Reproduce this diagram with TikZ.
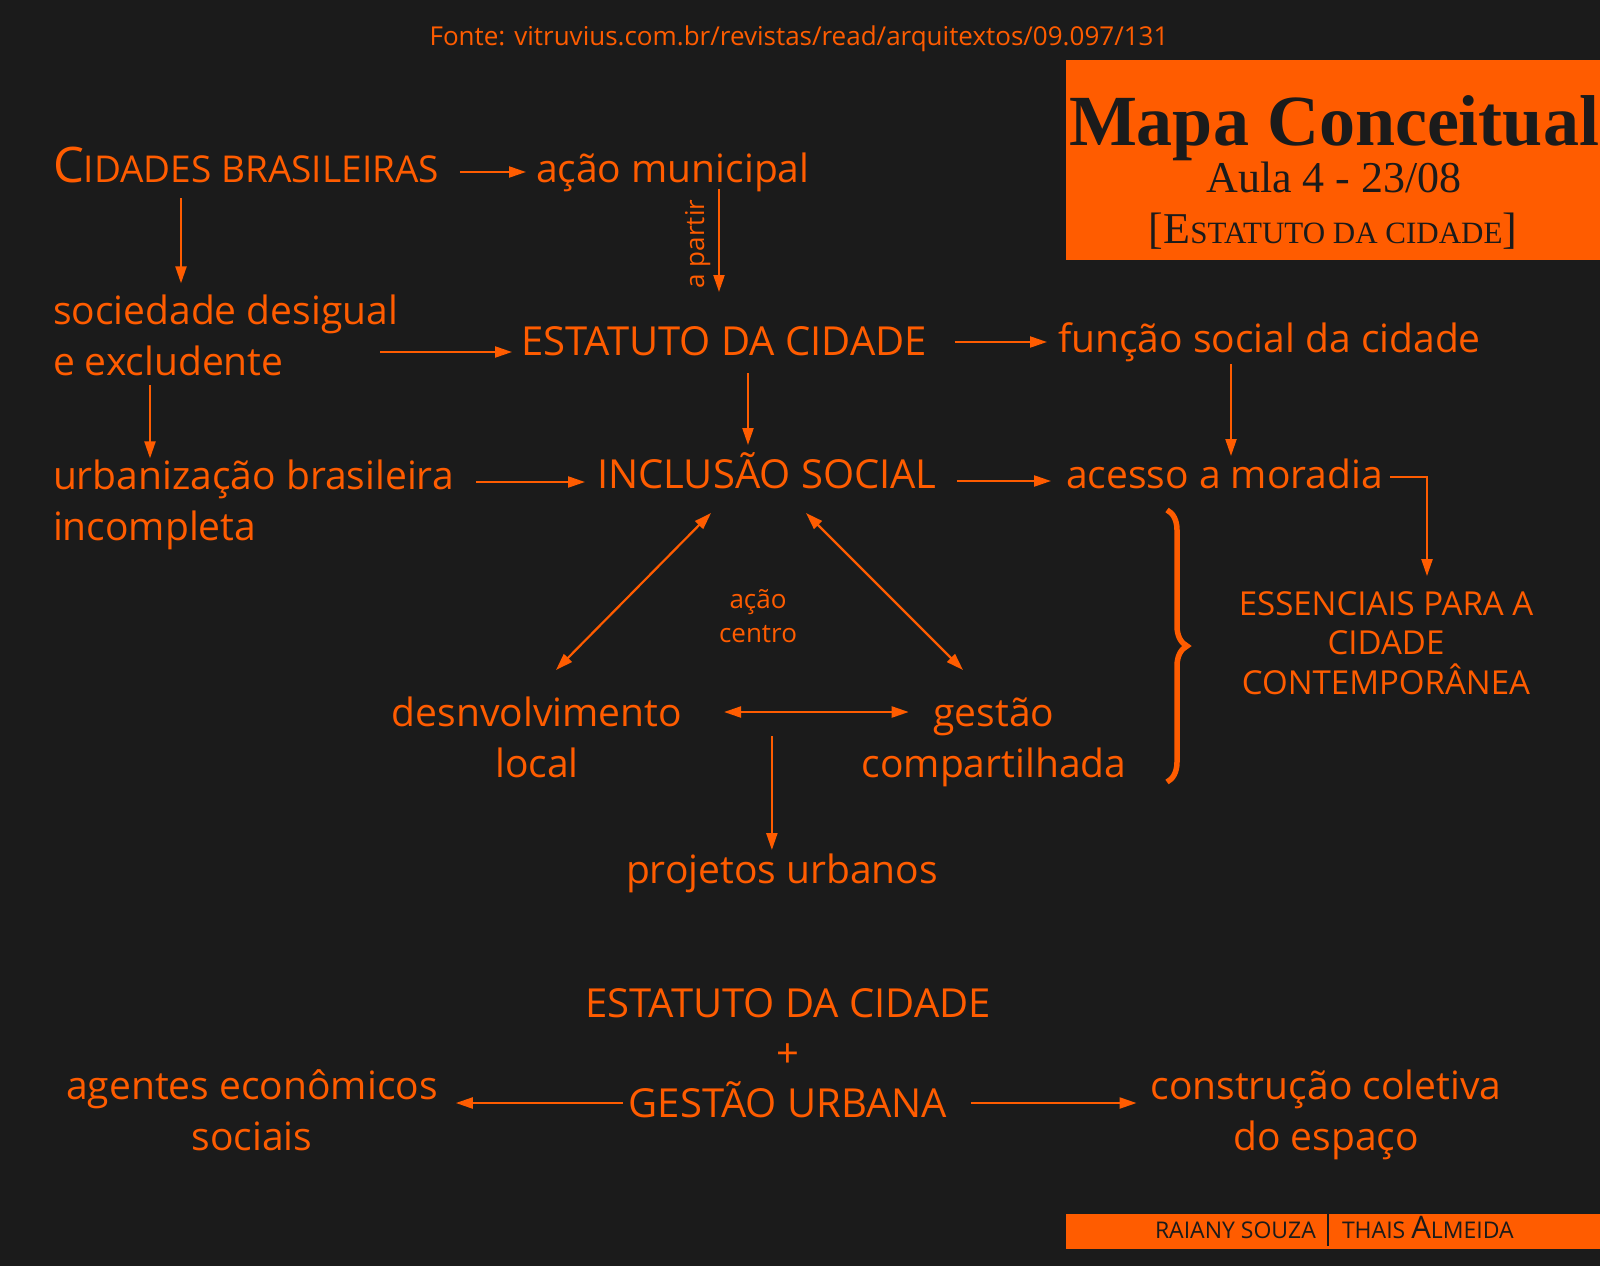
\documentclass[tikz,border=0pt]{standalone}
\usepackage{fontspec}
\setmainfont{Open Sans}
\newfontfamily\serifft{Liberation Serif}
\usetikzlibrary{arrows.meta,calc,decorations.pathreplacing}
\definecolor{bg}{HTML}{1B1B1B}
\definecolor{org}{HTML}{FF5C00}
\begin{document}
\begin{tikzpicture}[x=1pt,y=-1pt,
  every node/.style={inner sep=0pt,outer sep=0pt,text=org},
  txt/.style={font=\fontsize{39}{51}\selectfont},
  captxt/.style={font=\fontsize{40}{50}\selectfont},
  arr/.style={draw=org,line width=2.2pt,-{Triangle[length=17pt,width=11pt]}},
  dbl/.style={draw=org,line width=2.2pt,{Triangle[length=17pt,width=11pt]}-{Triangle[length=17pt,width=11pt]}},
  dark/.style={text=bg}]
\fill[bg] (0,0) rectangle (1600,1266);
\useasboundingbox (0,0) rectangle (1600,1266);

% source line
\node[anchor=base,font=\fontsize{26}{30}\selectfont] (fonte) at (799,45) {Fonte: vitruvius.com.br/revistas/read/arquitextos/09.097/131};

% title box
\node[fill=org,minimum width=534pt,minimum height=200pt,anchor=north west] (tbox) at (1066,60) {};
\node[dark,anchor=base,font=\serifft\bfseries\fontsize{72}{72}\selectfont] (mapa) at (1334,145) {Mapa Conceitual};
\node[dark,anchor=base,font=\serifft\fontsize{44}{44}\selectfont] (aula) at (1334,192) {Aula 4 - 23/08};
\node[dark,anchor=base,font=\serifft\fontsize{44}{44}\selectfont] (estt) at (1333,243) {[E{\fontsize{31}{31}\selectfont STATUTO DA CIDADE}]};

% credits box
\node[fill=org,minimum width=534pt,minimum height=35pt,anchor=north west] (cbox) at (1066,1214) {};
\node[dark,anchor=base west,font=\fontsize{23}{23}\selectfont] (rai) at (1155,1238) {RAIANY SOUZA};
\node[dark,anchor=base west,font=\fontsize{23}{23}\selectfont] (tha) at (1342,1238) {THAIS {\fontsize{31}{31}\selectfont A}LMEIDA};
\draw[bg,line width=2pt] (1328,1214) -- (1328,1246);

% concept nodes (multi-line nodes: base = last line baseline)
\node[anchor=base west] (cid) at (53,182) {{\fontsize{49}{49}\selectfont C}{\fontsize{37}{37}\selectfont IDADES BRASILEIRAS}};
\node[txt,anchor=base west] (acm) at (536,182) {ação municipal};
\node[txt,anchor=base west,align=left] (soc) at (53,375) {sociedade desigual\\e excludente};
\node[captxt,anchor=base west] (est) at (521,355) {ESTATUTO DA CIDADE};
\node[txt,anchor=base west] (fsc) at (1058,352) {função social da cidade};
\node[txt,anchor=base west,align=left] (urb) at (53,540) {urbanização brasileira\\incompleta};
\node[captxt,anchor=base west] (inc) at (597,488) {INCLUSÃO SOCIAL};
\node[txt,anchor=base west] (ace) at (1066,488) {acesso a moradia};
\node[anchor=base,align=center,font=\fontsize{33}{39.5}\selectfont] (ess) at (1386,694) {ESSENCIAIS PARA A\\CIDADE\\CONTEMPORÂNEA};
\node[anchor=base,align=center,font=\fontsize{26}{34}\selectfont] (acc) at (758,642) {ação\\centro};
\node[txt,anchor=base,align=center] (des) at (537,777) {desnvolvimento\\local};
\node[txt,anchor=base,align=center] (ges) at (994,777) {gestão\\compartilhada};
\node[txt,anchor=base] (pro) at (782,883) {projetos urbanos};
\node[captxt,anchor=base] (est2) at (788,1017) {ESTATUTO DA CIDADE};
\node[captxt,anchor=base] (plus) at (788,1067) {+};
\node[captxt,anchor=base] (gu) at (788,1117) {GESTÃO URBANA};
\node[txt,anchor=base,align=center] (age) at (252,1150) {agentes econômicos\\sociais};
\node[txt,anchor=base,align=center] (con) at (1326,1150) {construção coletiva\\do espaço};
\node[rotate=90,anchor=base,font=\fontsize{26}{30}\selectfont] (apa) at (704,244) {a partir};

% connectors
\draw[arr] ([xshift=21pt,yshift=10pt]cid.base east) -- ([xshift=-10pt,yshift=10pt]acm.base west);
\draw[arr] ([xshift=128pt,yshift=-16pt]cid.base west) -- ([xshift=128pt,yshift=11pt]cid.base west |- soc.north);
\draw[arr] ([xshift=-18pt,yshift=3pt]soc.east |- est.base west) -- ([xshift=-9pt,yshift=3pt]est.base west);
\draw[arr] ([xshift=183pt,yshift=-7pt]acm.base west) -- ([xshift=183pt,yshift=63pt]acm.base west |- est.base);
\draw[arr] ([xshift=28pt,yshift=13pt]est.base east) -- ([xshift=-11pt,yshift=10pt]fsc.base west);
\draw[arr] ([xshift=227pt,yshift=-18pt]est.base west) -- ([xshift=227pt,yshift=43pt]est.base west |- inc.base);
\draw[arr] ([xshift=173pt,yshift=-12pt]fsc.base west) -- ([xshift=173pt,yshift=32pt]fsc.base west |- ace.base);
\draw[arr] ([xshift=97pt,yshift=-10pt]soc.south west) -- ([xshift=97pt,yshift=1pt]soc.south west |- urb.north);
\draw[arr] ([xshift=22pt,yshift=6pt]urb.east |- inc.base) -- ([xshift=-12pt,yshift=6pt]inc.base west);
\draw[arr] ([xshift=20pt,yshift=7pt]inc.base east) -- ([xshift=-15pt,yshift=7pt]ace.base west);
\draw[arr] ([xshift=7pt,yshift=11pt]ace.base east) -| ([xshift=41pt,yshift=15pt]ess.north);
\draw[dbl] ([xshift=114pt,yshift=-25pt]inc.base west) -- ([xshift=19pt,yshift=107pt]des.base);
\draw[dbl] ([xshift=209pt,yshift=-25pt]inc.base west) -- ([xshift=-31pt,yshift=107pt]ges.base);
\draw[dbl] ([xshift=42pt,yshift=65pt]des.base east) -- ([xshift=47pt,yshift=65pt]ges.base west);
\coordinate (mid) at ($(des.base east)!0.5!(ges.base west)$);
\draw[arr] ([yshift=41pt]mid) -- ([yshift=33pt]mid |- pro.base);
\draw[arr] ([xshift=-6pt,yshift=14pt]gu.base west) -- ([xshift=18pt,yshift=14pt]age.east |- gu.base);
\draw[arr] ([xshift=24pt,yshift=14pt]gu.base east) -- ([xshift=-14pt,yshift=14pt]con.west |- gu.base);

% brace
\draw[org,line width=5.5pt,decorate,decoration={brace,amplitude=20pt}] (1167,510) -- (1167,782);
\end{tikzpicture}
\end{document}
